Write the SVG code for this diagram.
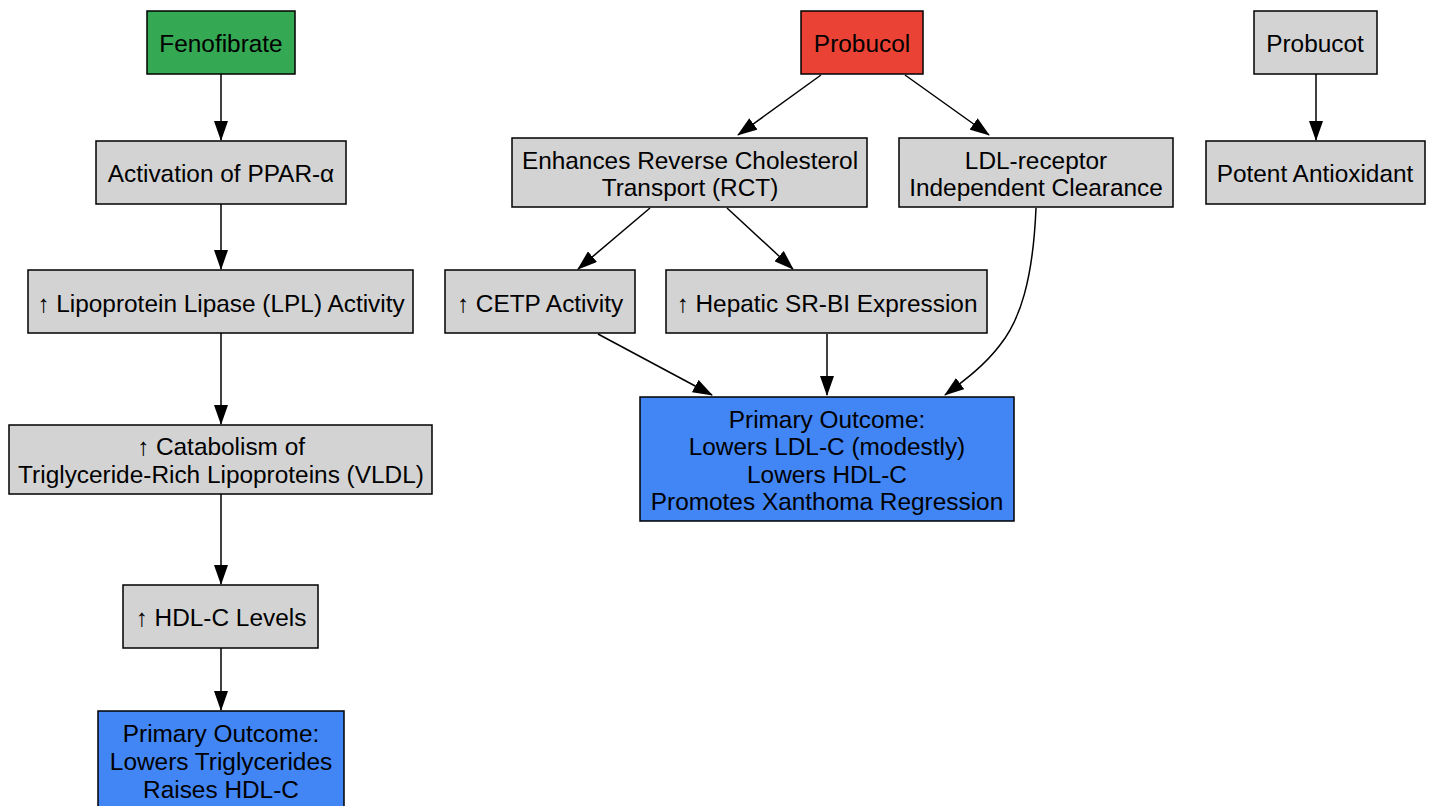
<svg xmlns="http://www.w3.org/2000/svg" width="1433" height="806" viewBox="0 0 1433 806">
<defs>
<style>
.n rect{stroke:#000;stroke-width:1.5}
.g rect{fill:#d3d3d3}
.t{font-family:"Liberation Sans",Arial,sans-serif;font-size:24.4px;fill:#000;text-anchor:middle}
.e{fill:none;stroke:#000;stroke-width:1.5;marker-end:url(#ah)}
</style>
<marker id="ah" markerUnits="userSpaceOnUse" markerWidth="20" markerHeight="14" refX="19" refY="7" orient="auto" viewBox="0 0 20 14">
<path d="M0,0 L20,7 L0,14 z" fill="#000"/>
</marker>
</defs>
<rect width="1433" height="806" fill="#fff"/>
<g id="edges">
<path class="e" d="M221,74 L221,140"/>
<path class="e" d="M221,204 L221,269"/>
<path class="e" d="M221,333 L221,424"/>
<path class="e" d="M221,494 L221,584"/>
<path class="e" d="M221,648 L221,710"/>
<path class="e" d="M821,75 L738,135"/>
<path class="e" d="M905,75 L989,135"/>
<path class="e" d="M650,208 L578,269"/>
<path class="e" d="M727,208 L793,269"/>
<path class="e" d="M598,334 L712,395"/>
<path class="e" d="M827,334 L827,395"/>
<path class="e" d="M1036,208 C1033,280 1020,320 1000,345 C985,365 965,380 945,395"/>
<path class="e" d="M1316,74 L1316,140"/>
</g>
<g id="fenofibrate" class="n"><rect x="147" y="11" width="148" height="63" fill="#34a853"/><text class="t" x="221" y="52">Fenofibrate</text></g>
<g id="ppar" class="n g"><rect x="96" y="141" width="250" height="63"/><text class="t" x="221" y="182">Activation of PPAR-α</text></g>
<g id="lpl" class="n g"><rect x="28" y="270" width="385" height="63"/><text class="t" x="221" y="312">↑ Lipoprotein Lipase (LPL) Activity</text></g>
<g id="catabolism" class="n g"><rect x="9" y="425" width="423" height="69"/><text class="t" x="221" y="455">↑ Catabolism of</text><text class="t" x="221" y="483">Triglyceride-Rich Lipoproteins (VLDL)</text></g>
<g id="hdl" class="n g"><rect x="123" y="585" width="195" height="63"/><text class="t" x="221" y="626">↑ HDL-C Levels</text></g>
<g id="outcome1" class="n"><rect x="98" y="711" width="246" height="110" fill="#4285f4"/><text class="t" x="221" y="742">Primary Outcome:</text><text class="t" x="221" y="770">Lowers Triglycerides</text><text class="t" x="221" y="798">Raises HDL-C</text></g>
<g id="probucol" class="n"><rect x="801" y="11" width="122" height="63" fill="#ea4335"/><text class="t" x="862" y="52">Probucol</text></g>
<g id="rct" class="n g"><rect x="512" y="138" width="355" height="69"/><text class="t" x="690" y="169">Enhances Reverse Cholesterol</text><text class="t" x="690" y="196">Transport (RCT)</text></g>
<g id="ldlr" class="n g"><rect x="899" y="138" width="274" height="69"/><text class="t" x="1036" y="169">LDL-receptor</text><text class="t" x="1036" y="196">Independent Clearance</text></g>
<g id="cetp" class="n g"><rect x="445" y="270" width="190" height="63"/><text class="t" x="540" y="312">↑ CETP Activity</text></g>
<g id="srbi" class="n g"><rect x="666" y="270" width="321" height="63"/><text class="t" x="827" y="312">↑ Hepatic SR-BI Expression</text></g>
<g id="outcome2" class="n"><rect x="640" y="397" width="374" height="124" fill="#4285f4"/><text class="t" x="827" y="428">Primary Outcome:</text><text class="t" x="827" y="455">Lowers LDL-C (modestly)</text><text class="t" x="827" y="483">Lowers HDL-C</text><text class="t" x="827" y="510">Promotes Xanthoma Regression</text></g>
<g id="probucot" class="n g"><rect x="1254" y="11" width="123" height="63"/><text class="t" x="1315" y="52">Probucot</text></g>
<g id="antioxidant" class="n g"><rect x="1206" y="141" width="219" height="63"/><text class="t" x="1315" y="182">Potent Antioxidant</text></g>
</svg>
